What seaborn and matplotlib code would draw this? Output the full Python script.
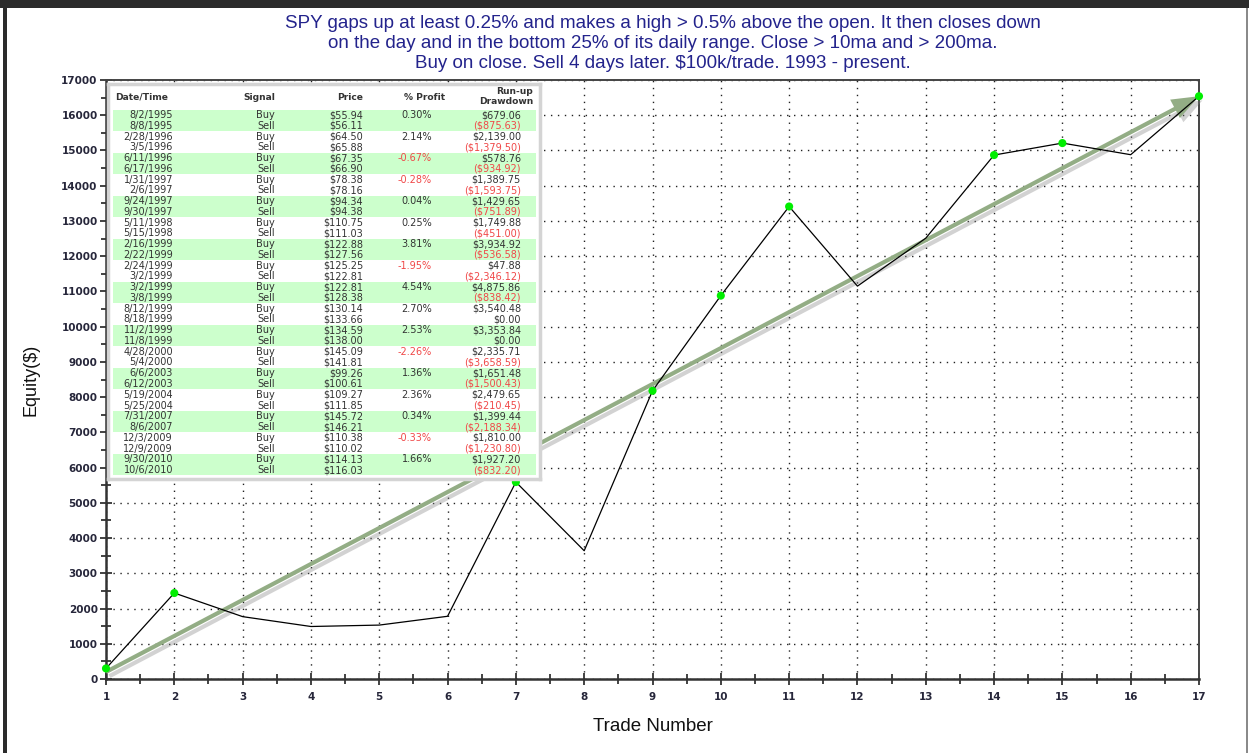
import matplotlib
matplotlib.use("Agg")
import matplotlib.pyplot as plt
import matplotlib.patheffects as pe
from matplotlib.patches import Rectangle
from matplotlib.ticker import MultipleLocator
import numpy as np
import pandas as pd
import seaborn as sns

# ---------------- data ----------------
trade_number = list(range(1, 18))
equity = [300, 2440, 1770, 1490, 1530, 1780, 5590, 3640, 8180, 10880,
          13410, 11150, 12510, 14870, 15210, 14880, 16540]

dates = ["8/2/1995", "8/8/1995", "2/28/1996", "3/5/1996", "6/11/1996", "6/17/1996",
         "1/31/1997", "2/6/1997", "9/24/1997", "9/30/1997", "5/11/1998", "5/15/1998",
         "2/16/1999", "2/22/1999", "2/24/1999", "3/2/1999", "3/2/1999", "3/8/1999",
         "8/12/1999", "8/18/1999", "11/2/1999", "11/8/1999", "4/28/2000", "5/4/2000",
         "6/6/2003", "6/12/2003", "5/19/2004", "5/25/2004", "7/31/2007", "8/6/2007",
         "12/3/2009", "12/9/2009", "9/30/2010", "10/6/2010"]
buy_price = ["$55.94", "$64.50", "$67.35", "$78.38", "$94.34", "$110.75", "$122.88",
             "$125.25", "$122.81", "$130.14", "$134.59", "$145.09", "$99.26", "$109.27",
             "$145.72", "$110.38", "$114.13"]
sell_price = ["$56.11", "$65.88", "$66.90", "$78.16", "$94.38", "$111.03", "$127.56",
              "$122.81", "$128.38", "$133.66", "$138.00", "$141.81", "$100.61", "$111.85",
              "$146.21", "$110.02", "$116.03"]
profit_pct = [0.30, 2.14, -0.67, -0.28, 0.04, 0.25, 3.81, -1.95, 4.54, 2.70, 2.53,
              -2.26, 1.36, 2.36, 0.34, -0.33, 1.66]
run_up = ["$679.06", "$2,139.00", "$578.76", "$1,389.75", "$1,429.65", "$1,749.88",
          "$3,934.92", "$47.88", "$4,875.86", "$3,540.48", "$3,353.84", "$2,335.71",
          "$1,651.48", "$2,479.65", "$1,399.44", "$1,810.00", "$1,927.20"]
drawdown = ["($875.63)", "($1,379.50)", "($934.92)", "($1,593.75)", "($751.89)",
            "($451.00)", "($536.58)", "($2,346.12)", "($838.42)", "$0.00", "$0.00",
            "($3,658.59)", "($1,500.43)", "($210.45)", "($2,188.34)", "($1,230.80)",
            "($832.20)"]

title_lines = ["SPY gaps up at least 0.25% and makes a high > 0.5% above the open. It then closes down",
               "on the day and in the bottom 25% of its daily range. Close > 10ma and > 200ma.",
               "Buy on close. Sell 4 days later. $100k/trade. 1993 - present."]

df = pd.DataFrame({"trade": trade_number, "equity": equity})
df["new_high"] = df["equity"] >= df["equity"].cummax()

# ---------------- figure ----------------
sns.set_style("white")
plt.rcParams["font.family"] = ["DejaVu Sans"]

W, H = 1249, 753
fig = plt.figure(figsize=(W / 100, H / 100), dpi=100)
fig.patch.set_facecolor("white")

# window frame
fig.patches.append(Rectangle((0, 1 - 8 / H), 1, 8 / H, transform=fig.transFigure,
                             facecolor="#2b2b2b", edgecolor="none", zorder=0))
fig.patches.append(Rectangle((3 / W, 0), 4 / W, 1, transform=fig.transFigure,
                             facecolor="#2b2b2b", edgecolor="none", zorder=0))
fig.patches.append(Rectangle((1246 / W, 0), 1.5 / W, 1 - 8 / H, transform=fig.transFigure,
                             facecolor="#8a8a8a", edgecolor="none", zorder=0))

L, R, T, B = 106, 1199, 80, 679
ax = fig.add_axes([L / W, (H - B) / H, (R - L) / W, (B - T) / H])

ax.set_xlim(1, 17)
ax.set_ylim(0, 17000)
ax.xaxis.set_major_locator(MultipleLocator(1))
ax.xaxis.set_minor_locator(MultipleLocator(0.5))
ax.yaxis.set_major_locator(MultipleLocator(1000))
ax.yaxis.set_minor_locator(MultipleLocator(500))
ax.grid(True, which="major", color="#222222", linestyle=(0, (1, 4)), linewidth=1.0)
ax.set_axisbelow(True)

sns.lineplot(data=df, x="trade", y="equity", color="black", linewidth=0.9, ax=ax,
             zorder=4)

# trend arrow (first to last equity point)
ax.annotate("", xy=(trade_number[-1], equity[-1]), xytext=(trade_number[0], equity[0] - 100),
            arrowprops=dict(arrowstyle="simple,head_length=1.3,head_width=1.0,tail_width=0.2",
                            mutation_scale=15, facecolor="#93ad85", edgecolor="none",
                            lw=0, shrinkA=0, shrinkB=0,
                            path_effects=[pe.SimplePatchShadow(offset=(2.5, -3),
                                                               shadow_rgbFace="#808080",
                                                               alpha=0.35),
                                          pe.Normal()]),
            zorder=3)

sns.scatterplot(data=df[df["new_high"]], x="trade", y="equity", color="#00ee00",
                s=34, edgecolor="none", ax=ax, zorder=6, clip_on=False)

for side in ["left", "bottom"]:
    ax.spines[side].set_linewidth(1.8)
    ax.spines[side].set_color("#333333")
for side in ["top", "right"]:
    ax.spines[side].set_linewidth(1.4)
    ax.spines[side].set_color("#444444")

ax.tick_params(which="both", direction="inout", color="#222222", width=1.2,
               bottom=True, left=True, top=False, right=False)
ax.tick_params(which="major", length=8, labelsize=7.5, labelcolor="#26263a", pad=2)
ax.tick_params(which="minor", length=7)
ax.tick_params(axis="x", pad=5)
for lab in ax.get_xticklabels() + ax.get_yticklabels():
    lab.set_fontweight("bold")

ax.set_xlabel("Trade Number", fontsize=13.5, family="Liberation Sans", color="#111111",
              labelpad=12)
ax.set_ylabel("Equity($)", fontsize=13, family="Liberation Sans", color="#111111",
              labelpad=16)

for i, line in enumerate(title_lines):
    fig.text(663 / W, 1 - (23 + 20 * i) / H, line, ha="center", va="center",
             fontsize=13.5, family="Liberation Sans", color="#23238c")

# ---------------- trade table ----------------
tx0, ty0, tx1, ty1 = 108, 84, 540, 479
tw, th = tx1 - tx0, ty1 - ty0
tax = fig.add_axes([tx0 / W, (H - ty1) / H, tw / W, th / H], zorder=10)
tax.set_xlim(0, tw)
tax.set_ylim(th, 0)
tax.set_xticks([])
tax.set_yticks([])
tax.set_facecolor("white")
for s in tax.spines.values():
    s.set_color("#d4d4d4")
    s.set_linewidth(2.5)

row0, dy = 31.0, 10.76
for k in range(len(profit_pct)):
    if k % 2 == 0:
        tax.add_patch(Rectangle((5, row0 + 2 * k * dy - dy / 2), tw - 9, 2 * dy,
                                facecolor="#ccffcc", edgecolor="none"))

hfs, vfs = 6.6, 7.0
tcol = "#333333"
red = "#f04848"
tax.text(7, 13, "Date/Time", ha="left", va="center", fontsize=hfs, weight="bold", color=tcol)
tax.text(167, 13, "Signal", ha="right", va="center", fontsize=hfs, weight="bold", color=tcol)
tax.text(255, 13, "Price", ha="right", va="center", fontsize=hfs, weight="bold", color=tcol)
tax.text(337, 13, "% Profit", ha="right", va="center", fontsize=hfs, weight="bold", color=tcol)
tax.text(425, 7, "Run-up", ha="right", va="center", fontsize=hfs, weight="bold", color=tcol)
tax.text(425, 18, "Drawdown", ha="right", va="center", fontsize=hfs, weight="bold", color=tcol)

for k in range(len(profit_pct)):
    yb = row0 + 2 * k * dy
    ys = yb + dy
    tax.text(65, yb, dates[2 * k], ha="right", va="center", fontsize=vfs, color=tcol)
    tax.text(65, ys, dates[2 * k + 1], ha="right", va="center", fontsize=vfs, color=tcol)
    tax.text(167, yb, "Buy", ha="right", va="center", fontsize=vfs, color=tcol)
    tax.text(167, ys, "Sell", ha="right", va="center", fontsize=vfs, color=tcol)
    tax.text(255, yb, buy_price[k], ha="right", va="center", fontsize=vfs, color=tcol)
    tax.text(255, ys, sell_price[k], ha="right", va="center", fontsize=vfs, color=tcol)
    p = profit_pct[k]
    tax.text(324, yb, f"{p:.2f}%", ha="right", va="center", fontsize=vfs,
             color=red if p < 0 else tcol)
    tax.text(413, yb, run_up[k], ha="right", va="center", fontsize=vfs, color=tcol)
    dd = drawdown[k]
    tax.text(413, ys, dd, ha="right", va="center", fontsize=vfs,
             color=red if dd.startswith("(") else tcol)

fig.savefig("out.png", dpi=100, facecolor="white")
